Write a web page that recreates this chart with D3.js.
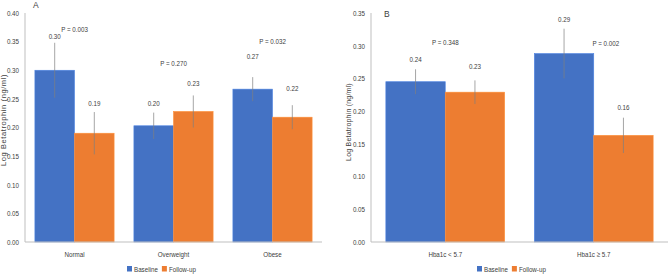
<!DOCTYPE html>
<html>
<head>
<meta charset="utf-8">
<script src="https://cdn.jsdelivr.net/npm/d3@7"></script>
<style>
  body { margin: 0; background: #fff; }
  svg text { font-family: "Liberation Sans", Arial, sans-serif; fill: #404040; }
</style>
</head>
<body>
<svg id="chart" width="669" height="275"></svg>
<script>
// Panel A: BMI groups
const bmiGroups = ["Normal", "Overweight", "Obese"];
const bmiBaseline = [0.300, 0.203, 0.267];
const bmiFollowup = [0.190, 0.228, 0.218];
const bmiBaselineErr = [0.048, 0.023, 0.021];
const bmiFollowupErr = [0.037, 0.028, 0.021];
const bmiBaselineText = ["0.30", "0.20", "0.27"];
const bmiFollowupText = ["0.19", "0.23", "0.22"];
const bmiPText = ["P = 0.003", "P = 0.270", "P = 0.032"];
// where the labels sit, in data units (as placed in the original)
const bmiBaselineLabelAt = [0.360, 0.242, 0.325];
const bmiFollowupLabelAt = [0.242, 0.277, 0.269];
const bmiPLabelAt = [0.372, 0.313, 0.350];
const bmiTicks = [0, 0.05, 0.10, 0.15, 0.20, 0.25, 0.30, 0.35, 0.40];

// Panel B: HbA1c groups
const hbaGroups = ["Hba1c < 5.7", "Hba1c \u2265 5.7"];
const hbaBaseline = [0.245, 0.288];
const hbaFollowup = [0.229, 0.163];
const hbaBaselineErr = [0.019, 0.038];
const hbaFollowupErr = [0.018, 0.027];
const hbaBaselineText = ["0.24", "0.29"];
const hbaFollowupText = ["0.23", "0.16"];
const hbaPText = ["P = 0.348", "P = 0.002"];
const hbaBaselineLabelAt = [0.280, 0.340];
const hbaFollowupLabelAt = [0.268, 0.206];
const hbaPLabelAt = [0.306, 0.304];
const hbaTicks = [0, 0.05, 0.10, 0.15, 0.20, 0.25, 0.30, 0.35];

const seriesNames = ["Baseline", "Follow-up"];
const colors = ["#4472C4", "#ED7D31"];

const svg = d3.select("#chart");

// narrow-looking text: regular font squeezed horizontally
const squeeze = "scale(0.78,1)";
const fs = "8px";

function drawPanel(opt) {
    const g = svg.append("g");

    const x = d3.scaleBand()
        .domain(opt.groups)
        .range([opt.left, opt.right])
        .paddingInner(0.2)
        .paddingOuter(0.1);

    const y = d3.scaleLinear()
        .domain([0, opt.yMax])
        .range([opt.bottom, opt.top]);

    const half = x.bandwidth() / 2;

    // y axis: line + tick labels
    g.append("line")
        .attr("x1", opt.left).attr("x2", opt.left)
        .attr("y1", y(opt.yMax)).attr("y2", y(0))
        .attr("stroke", "#bfbfbf").attr("stroke-width", 1);

    g.selectAll(".ytick")
        .data(opt.ticks)
        .enter()
        .append("text")
        .attr("transform", d => `translate(${opt.left - 6},${y(d)}) ${squeeze}`)
        .attr("dy", "0.35em")
        .attr("text-anchor", "end")
        .style("font-size", fs)
        .text(d => d3.format(".2f")(d));

    // y axis title
    g.append("text")
        .attr("transform", `translate(${opt.titleX},${opt.titleY}) rotate(-90)`)
        .attr("text-anchor", "middle")
        .style("font-size", opt.titleSize)
        .style("letter-spacing", opt.titleSpacing)
        .text("Log Betatrophin (ng/ml)");

    const series = [
        { vals: opt.baseline, err: opt.baselineErr, text: opt.baselineText, at: opt.baselineLabelAt, dx: 0 },
        { vals: opt.followup, err: opt.followupErr, text: opt.followupText, at: opt.followupLabelAt, dx: half }
    ];

    series.forEach((s, si) => {
        // bars
        g.selectAll(".bar" + si)
            .data(opt.groups)
            .enter()
            .append("rect")
            .attr("x", d => x(d) + s.dx)
            .attr("y", (d, i) => y(s.vals[i]))
            .attr("width", half)
            .attr("height", (d, i) => y(0) - y(s.vals[i]))
            .attr("fill", colors[si])
            .attr("stroke", d3.color(colors[si]).brighter(0.4))
            .attr("stroke-width", 0.6);

        // error bars (no caps)
        g.selectAll(".err" + si)
            .data(opt.groups)
            .enter()
            .append("line")
            .attr("x1", d => x(d) + s.dx + half / 2)
            .attr("x2", d => x(d) + s.dx + half / 2)
            .attr("y1", (d, i) => y(s.vals[i] + s.err[i]))
            .attr("y2", (d, i) => y(s.vals[i] - s.err[i]))
            .attr("stroke", "#7f7f7f")
            .attr("stroke-width", 0.7);

        // value labels
        g.selectAll(".val" + si)
            .data(opt.groups)
            .enter()
            .append("text")
            .attr("transform", (d, i) => `translate(${x(d) + s.dx + half / 2},${y(s.at[i])}) ${squeeze}`)
            .attr("dy", "0.35em")
            .attr("text-anchor", "middle")
            .style("font-size", fs)
            .text((d, i) => s.text[i]);
    });

    // P-value labels
    g.selectAll(".pval")
        .data(opt.groups)
        .enter()
        .append("text")
        .attr("transform", (d, i) => `translate(${x(d) + half + (opt.pShift ? opt.pShift[i] : 0)},${y(opt.pAt[i])}) ${squeeze}`)
        .attr("dy", "0.35em")
        .attr("text-anchor", "middle")
        .style("font-size", fs)
        .text((d, i) => opt.pText[i]);

    // x axis line + category labels
    g.append("line")
        .attr("x1", opt.left).attr("x2", opt.right)
        .attr("y1", y(0)).attr("y2", y(0))
        .attr("stroke", "#bfbfbf").attr("stroke-width", 1);

    g.selectAll(".xlab")
        .data(opt.groups)
        .enter()
        .append("text")
        .attr("transform", d => `translate(${x(d) + half},${opt.bottom + 12}) ${squeeze}`)
        .attr("dy", "0.35em")
        .attr("text-anchor", "middle")
        .style("font-size", fs)
        .text(d => d);

    // panel letter
    g.append("text")
        .attr("x", opt.letterX)
        .attr("y", opt.letterY)
        .attr("dy", "0.35em")
        .style("font-size", "8.5px")
        .text(opt.letter);

    // legend
    const lg = g.append("g").attr("transform", `translate(${opt.legendX},${opt.bottom + 27})`);
    let lx = 0;
    seriesNames.forEach((name, i) => {
        lg.append("rect")
            .attr("x", lx).attr("y", -3)
            .attr("width", 5).attr("height", 5.5)
            .attr("fill", colors[i]);
        const t = lg.append("text")
            .attr("transform", `translate(${lx + 7},0) ${squeeze}`)
            .attr("dy", "0.35em")
            .style("font-size", fs)
            .text(name);
        lx += 7 + t.node().getComputedTextLength() * 0.78 + 4;
    });
}

drawPanel({
    groups: bmiGroups, baseline: bmiBaseline, followup: bmiFollowup,
    baselineErr: bmiBaselineErr, followupErr: bmiFollowupErr,
    baselineText: bmiBaselineText, followupText: bmiFollowupText,
    baselineLabelAt: bmiBaselineLabelAt, followupLabelAt: bmiFollowupLabelAt,
    pText: bmiPText, pAt: bmiPLabelAt, ticks: bmiTicks, yMax: 0.40,
    left: 25, right: 322, top: 13, bottom: 242,
    titleX: 6, titleY: 120, titleSize: "7.5px", titleSpacing: "0.6px",
    letter: "A", letterX: 33, letterY: 5, legendX: 127
});

drawPanel({
    groups: hbaGroups, baseline: hbaBaseline, followup: hbaFollowup,
    baselineErr: hbaBaselineErr, followupErr: hbaFollowupErr,
    baselineText: hbaBaselineText, followupText: hbaFollowupText,
    baselineLabelAt: hbaBaselineLabelAt, followupLabelAt: hbaFollowupLabelAt,
    pText: hbaPText, pAt: hbaPLabelAt, pShift: [0, 12], ticks: hbaTicks, yMax: 0.35,
    left: 371, right: 668, top: 13, bottom: 242,
    titleX: 351, titleY: 122, titleSize: "7px", titleSpacing: "0.2px",
    letter: "B", letterX: 384, letterY: 14, legendX: 477
});
</script>
</body>
</html>
